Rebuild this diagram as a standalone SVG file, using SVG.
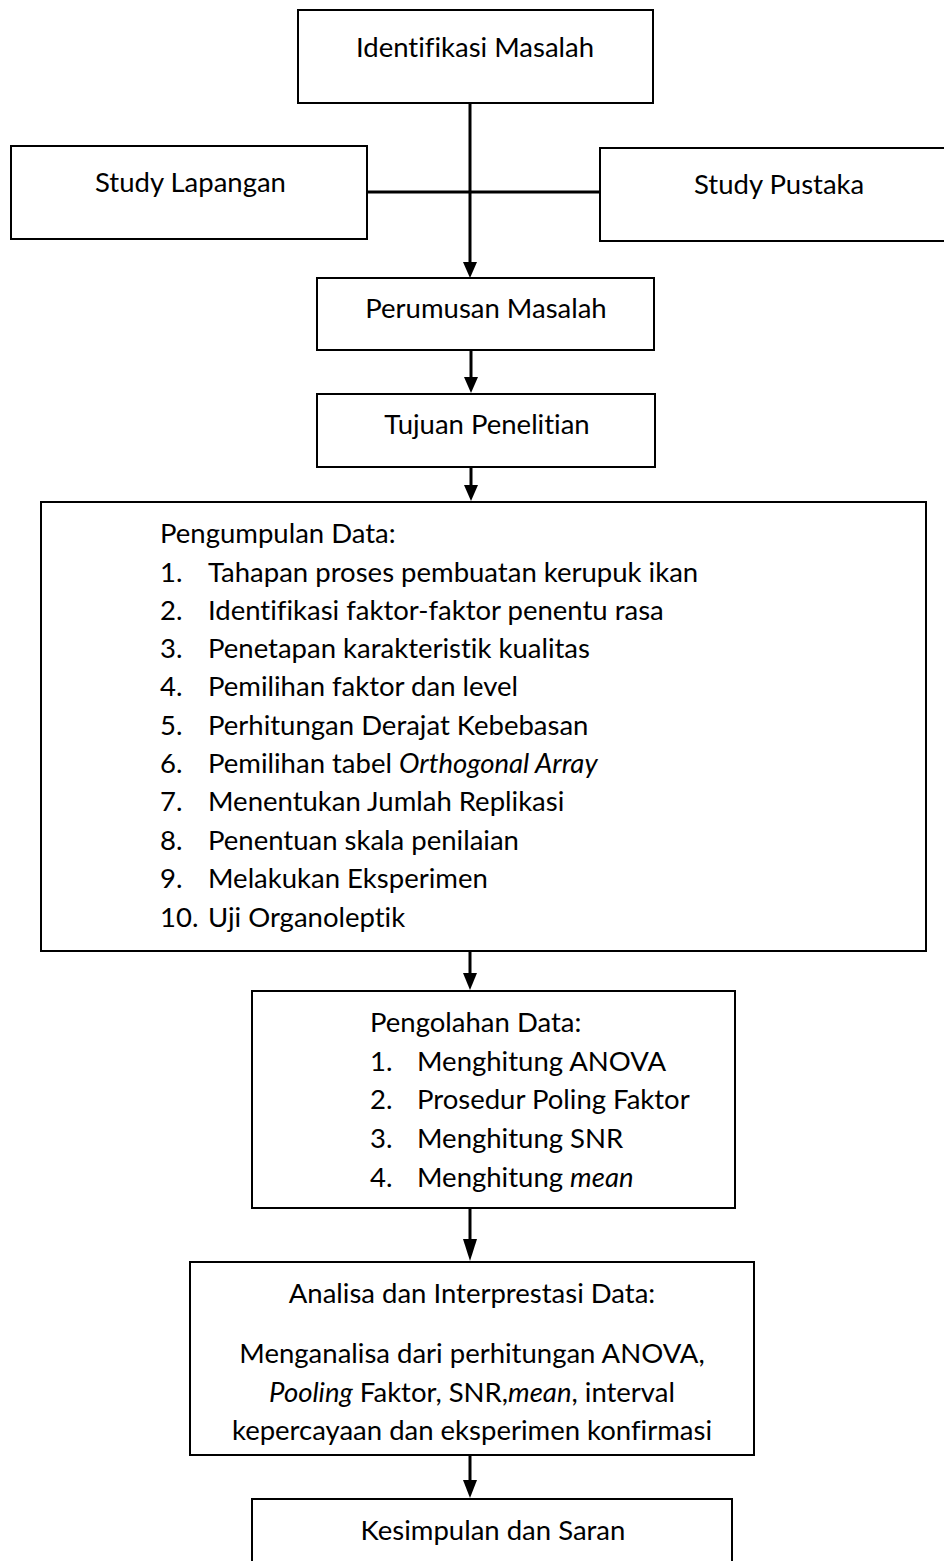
<svg xmlns="http://www.w3.org/2000/svg" width="944" height="1561" viewBox="0 0 944 1561">
<style>
.box{fill:#fff;stroke:#000;stroke-width:2}
.t{font-family:Lato,"Open Sans",sans-serif;font-size:27.5px;fill:#000;font-variant-ligatures:none}
.c{text-anchor:middle}
.ln{stroke:#000;stroke-width:3;fill:none}
.ah{fill:#000}
</style>
<rect width="944" height="1561" fill="#fff"/>
<g id="connectors">
<line class="ln" x1="367" y1="192" x2="600" y2="192"/>
<path class="ln" d="M470,103 V262"/>
<path class="ah" d="M463,262 L477,262 L470,278 Z"/>
<path class="ln" d="M471,350 V378"/>
<path class="ah" d="M464,377 L478,377 L471,393 Z"/>
<path class="ln" d="M471,467 V486"/>
<path class="ah" d="M464,485 L478,485 L471,501 Z"/>
<path class="ln" d="M470,951 V974"/>
<path class="ah" d="M463,973 L477,973 L470,990 Z"/>
<path class="ln" d="M470,1208 V1240"/>
<path class="ah" d="M463,1239 L477,1239 L470,1261 Z"/>
<path class="ln" d="M470,1455 V1481"/>
<path class="ah" d="M463,1480 L477,1480 L470,1498 Z"/>
</g>
<g id="identifikasi">
<rect class="box" x="298" y="10" width="355" height="93"/>
<text class="t c" x="475" y="57">Identifikasi Masalah</text>
</g>
<g id="study-lapangan">
<rect class="box" x="11" y="146" width="356" height="93"/>
<text class="t" x="95" y="192">Study Lapangan</text>
</g>
<g id="study-pustaka">
<rect class="box" x="600" y="148" width="350" height="93"/>
<text class="t" x="694" y="194">Study Pustaka</text>
</g>
<g id="perumusan">
<rect class="box" x="317" y="278" width="337" height="72"/>
<text class="t c" x="486" y="318">Perumusan Masalah</text>
</g>
<g id="tujuan">
<rect class="box" x="317" y="394" width="338" height="73"/>
<text class="t c" x="487" y="434">Tujuan Penelitian</text>
</g>
<g id="pengumpulan">
<rect class="box" x="41" y="502" width="885" height="449"/>
<text class="t" x="160" y="543">Pengumpulan Data:</text>
<text class="t" x="160" y="582">1.</text><text class="t" x="208" y="582">Tahapan proses pembuatan kerupuk ikan</text>
<text class="t" x="160" y="620">2.</text><text class="t" x="208" y="620">Identifikasi faktor-faktor penentu rasa</text>
<text class="t" x="160" y="658">3.</text><text class="t" x="208" y="658">Penetapan karakteristik kualitas</text>
<text class="t" x="160" y="696">4.</text><text class="t" x="208" y="696">Pemilihan faktor dan level</text>
<text class="t" x="160" y="735">5.</text><text class="t" x="208" y="735">Perhitungan Derajat Kebebasan</text>
<text class="t" x="160" y="773">6.</text><text class="t" x="208" y="773">Pemilihan tabel <tspan font-style="italic">Orthogonal Array</tspan></text>
<text class="t" x="160" y="811">7.</text><text class="t" x="208" y="811">Menentukan Jumlah Replikasi</text>
<text class="t" x="160" y="850">8.</text><text class="t" x="208" y="850">Penentuan skala penilaian</text>
<text class="t" x="160" y="888">9.</text><text class="t" x="208" y="888">Melakukan Eksperimen</text>
<text class="t" x="160" y="927">10.</text><text class="t" x="208" y="927">Uji Organoleptik</text>
</g>
<g id="pengolahan">
<rect class="box" x="252" y="991" width="483" height="217"/>
<text class="t" x="370" y="1032">Pengolahan Data:</text>
<text class="t" x="370" y="1071">1.</text><text class="t" x="417" y="1071">Menghitung ANOVA</text>
<text class="t" x="370" y="1109">2.</text><text class="t" x="417" y="1109">Prosedur Poling Faktor</text>
<text class="t" x="370" y="1148">3.</text><text class="t" x="417" y="1148">Menghitung SNR</text>
<text class="t" x="370" y="1187">4.</text><text class="t" x="417" y="1187">Menghitung <tspan font-style="italic">mean</tspan></text>
</g>
<g id="analisa">
<rect class="box" x="190" y="1262" width="564" height="193"/>
<text class="t c" x="472" y="1303">Analisa dan Interprestasi Data:</text>
<text class="t c" x="472" y="1363">Menganalisa dari perhitungan ANOVA,</text>
<text class="t c" x="472" y="1402"><tspan font-style="italic">Pooling</tspan> Faktor, SNR,<tspan font-style="italic">mean</tspan>, interval</text>
<text class="t c" x="472" y="1440">kepercayaan dan eksperimen konfirmasi</text>
</g>
<g id="kesimpulan">
<rect class="box" x="252" y="1499" width="480" height="80"/>
<text class="t c" x="493" y="1540">Kesimpulan dan Saran</text>
</g>
</svg>
